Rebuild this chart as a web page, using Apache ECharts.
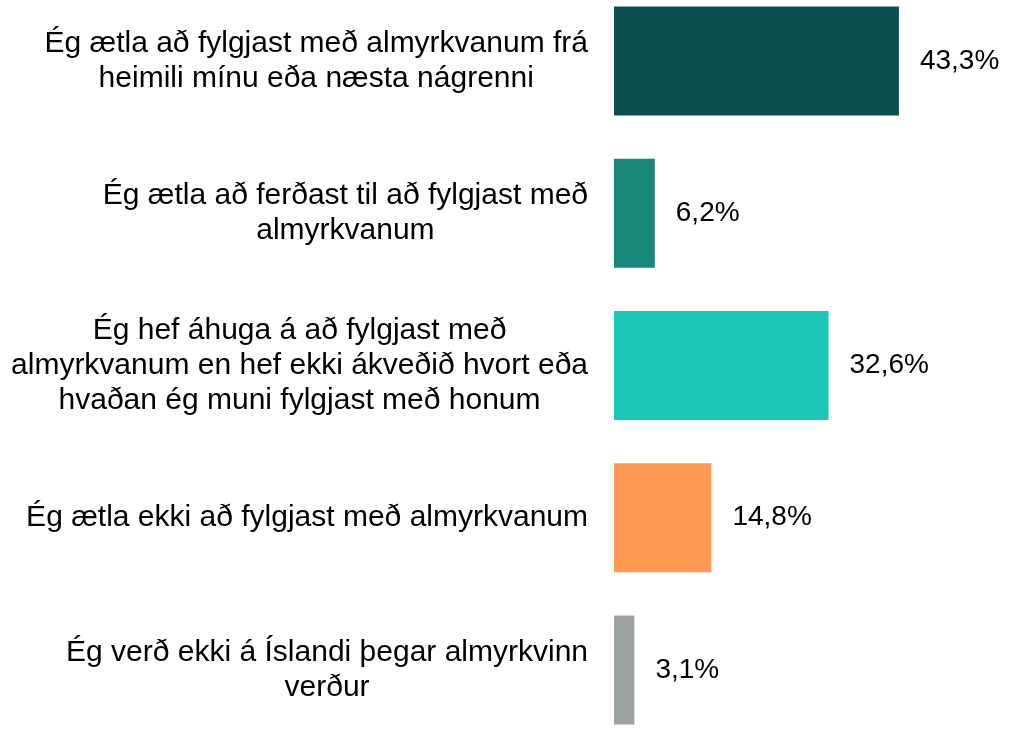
<!DOCTYPE html>
<html>
<head>
<meta charset="utf-8">
<script src="https://cdn.jsdelivr.net/npm/echarts@6/dist/echarts.min.js"></script>
<style>
  html, body { margin: 0; padding: 0; background: #fff; }
  #chart { width: 1020px; height: 731px; }
</style>
</head>
<body>
<div id="chart"></div>
<script>
var categories = [
  'Ég ætla að fylgjast með almyrkvanum frá\nheimili mínu eða næsta nágrenni',
  'Ég ætla að ferðast til að fylgjast með\nalmyrkvanum',
  'Ég hef áhuga á að fylgjast með\nalmyrkvanum en hef ekki ákveðið hvort eða\nhvaðan ég muni fylgjast með honum',
  'Ég ætla ekki að fylgjast með almyrkvanum',
  'Ég verð ekki á Íslandi þegar almyrkvinn\nverður'
];
var values = [43.3, 6.2, 32.6, 14.8, 3.1];
var colors = ['#0b4e52', '#1a877b', '#1bc8b8', '#ff9955', '#9da3a2'];

var myChart = echarts.init(document.getElementById('chart'));

var option = {
  animation: false,
  // first and last category sit on the grid edges
  grid: { left: 614, top: 61, width: 329, height: 609 },
  xAxis: {
    type: 'value',
    min: 0,
    max: 50,
    show: false
  },
  yAxis: {
    type: 'category',
    data: categories,
    inverse: true,
    boundaryGap: false,
    axisLine: { show: false },
    axisTick: { show: false },
    splitLine: { show: false },
    axisLabel: {
      margin: 26,
      color: '#000',
      fontFamily: 'Liberation Sans, Arial, sans-serif',
      fontSize: 30,
      lineHeight: 35,
      // center each line inside the label block
      formatter: function (v) {
        return v.split('\n').map(function (s) { return '{c|' + s + '}'; }).join('\n');
      },
      rich: {
        c: { align: 'center', fontSize: 30, lineHeight: 35, color: '#000',
             fontFamily: 'Liberation Sans, Arial, sans-serif' }
      }
    }
  },
  series: [{
    type: 'bar',
    barWidth: 109,
    clip: false,
    data: values.map(function (v, i) {
      return { value: v, itemStyle: { color: colors[i] } };
    }),
    label: {
      show: true,
      position: 'right',
      distance: 21,
      color: '#000',
      fontFamily: 'Liberation Sans, Arial, sans-serif',
      fontSize: 28,
      formatter: function (p) { return p.value.toFixed(1).replace('.', ',') + '%'; }
    }
  }]
};

myChart.setOption(option);
</script>
</body>
</html>
